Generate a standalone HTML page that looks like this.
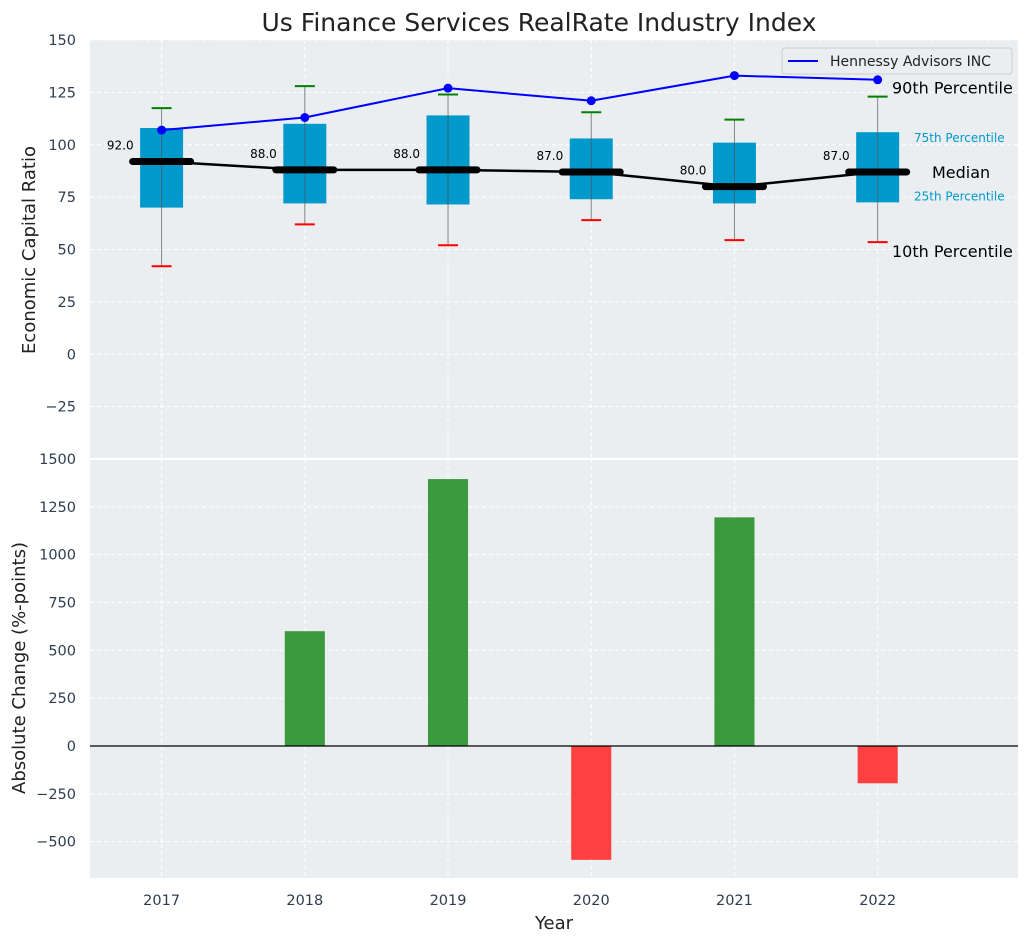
<!DOCTYPE html>
<html><head><meta charset="utf-8"><style>
body{margin:0;background:#fff;}
svg text{font-family:"DejaVu Sans","Liberation Sans",sans-serif;}
</style></head><body>
<svg id="chart" width="1029" height="942" xmlns="http://www.w3.org/2000/svg"></svg>
<script>
const years=[2017,2018,2019,2020,2021,2022];
const p10=[42,62,52,64,54.5,53.5];
const p25=[70,72,71.5,74,72,72.5];
const median=[92,88,88,87,80,87];
const p75=[108,110,114,103,101,106];
const p90=[117.5,128,124,115.5,112,123];
const company=[107,113,127,121,133,131];
const change=[0,600,1395,-595,1195,-195];
const topTicks=[150,125,100,75,50,25,0,-25];
const botTicks=[1500,1250,1000,750,500,250,0,-250,-500];

const NS='http://www.w3.org/2000/svg';
const svg=document.getElementById('chart');
function el(t,a,p){const e=document.createElementNS(NS,t);for(const k in a)e.setAttribute(k,a[k]);(p||svg).appendChild(e);return e;}
const L=90,R=1018,T1=40,B1=459,T2=459,B2=878;
const xS=v=>L+(v-2016.5)/(6.48)*(R-L);
const y1=v=>T1+(150-v)/200*(B1-T1);
const y2=v=>T2+(1500-v)/(1500+690)*(B2-T2);

let r=el('rect',{x:L,y:T1,width:R-L,height:B1-T1,fill:'#eaeef0'});

r=el('rect',{x:L,y:T2,width:R-L,height:B2-T2,fill:'#eaeef0'});

el('line',{x1:L,x2:R,y1:459,y2:459,stroke:'#fff','stroke-width':2});

years.forEach(yr=>{const x=xS(yr);
 el('line',{x1:x,x2:x,y1:T1,y2:B1,stroke:'#fff','stroke-dasharray':'4,3'});
 el('line',{x1:x,x2:x,y1:T2,y2:B2,stroke:'#fff','stroke-dasharray':'4,3'});
 const t=el('text',{x:x,y:905,'text-anchor':'middle','font-size':14.5,fill:'#2e3e50'});t.textContent=yr;
 
});
topTicks.forEach(v=>{const y=y1(v);
 el('line',{x1:L,x2:R,y1:y,y2:y,stroke:'#fff','stroke-dasharray':'4,3'});
 const t=el('text',{x:76,y:y+5,'text-anchor':'end','font-size':14.5,fill:'#2e3e50'});t.textContent=v<0?'\u2212'+(-v):v;
 
});
botTicks.forEach(v=>{const y=y2(v);
 el('line',{x1:L,x2:R,y1:y,y2:y,stroke:'#fff','stroke-dasharray':'4,3'});
 const t=el('text',{x:76,y:y+5,'text-anchor':'end','font-size':14.5,fill:'#2e3e50'});t.textContent=v<0?'\u2212'+(-v):v;
 
});

const bw=0.3*(R-L)/6.48;
years.forEach((yr,i)=>{const x=xS(yr);
 const b=el('rect',{x:x-bw/2,y:y1(p75[i]),width:bw,height:y1(p25[i])-y1(p75[i]),fill:'#0099cc'});
 
 el('line',{x1:x,x2:x,y1:y1(p10[i]),y2:y1(p90[i]),stroke:'#555','stroke-width':1,opacity:0.7});
 el('line',{x1:x-10,x2:x+10,y1:y1(p90[i]),y2:y1(p90[i]),stroke:'green','stroke-width':2});
 el('line',{x1:x-10,x2:x+10,y1:y1(p10[i]),y2:y1(p10[i]),stroke:'red','stroke-width':2});
});
let pts=years.map((yr,i)=>xS(yr)+','+y1(median[i])).join(' ');
let pl=el('polyline',{points:pts,fill:'none',stroke:'#000','stroke-width':2.5});

years.forEach((yr,i)=>{const x=xS(yr),y=y1(median[i]);
 const m=el('line',{x1:x-29,x2:x+29,y1:y,y2:y,stroke:'#000','stroke-width':7,'stroke-linecap':'round'});
 
 const t=el('text',{x:x-28,y:y-12,'text-anchor':'end','font-size':12,fill:'#000'});t.textContent=median[i].toFixed(1);
 
});
pts=years.map((yr,i)=>xS(yr)+','+y1(company[i])).join(' ');
pl=el('polyline',{points:pts,fill:'none',stroke:'#0000ff','stroke-width':2});

years.forEach((yr,i)=>{const c=el('circle',{cx:xS(yr),cy:y1(company[i]),r:4.5,fill:'#0000ff'});
 });

const lg=el('g',{});
el('rect',{x:782,y:48,width:230,height:26,rx:3,fill:'#eaeef0',stroke:'#ccc'},lg);
el('line',{x1:788,x2:818,y1:61,y2:61,stroke:'#0000ff','stroke-width':2},lg);
let t=el('text',{x:830,y:66,'font-size':14,fill:'#222'},lg);t.textContent='Hennessy Advisors INC';

[['90th Percentile',892,y1(p90[5])-3,16,'#000'],['75th Percentile',914,y1(p75[5])+10,12,'#0099cc'],
 ['Median',932,y1(median[5])+6,16,'#000'],['25th Percentile',914,y1(p25[5])-2,12,'#0099cc'],
 ['10th Percentile',892,y1(p10[5])+15,16,'#000']].forEach(a=>{
 const t=el('text',{x:a[1],y:a[2],'font-size':a[3],fill:a[4]});t.textContent=a[0];
 });

const bbw=0.28*(R-L)/6.48;
years.forEach((yr,i)=>{const v=change[i];const y=Math.min(y2(v),y2(0));const h=Math.abs(y2(v)-y2(0));
 const b=el('rect',{x:xS(yr)-bbw/2,y:y,width:bbw,height:h,fill:v>=0?'#3a9a3d':'#ff4040'});
 });
el('line',{x1:L,x2:R,y1:y2(0),y2:y2(0),stroke:'#000','stroke-width':1.2});

t=el('text',{x:539,y:31,'text-anchor':'middle','font-size':25,fill:'#222'});t.textContent='Us Finance Services RealRate Industry Index';

t=el('text',{x:0,y:0,'text-anchor':'middle','font-size':18,fill:'#222',transform:'translate(35,250) rotate(-90)'});t.textContent='Economic Capital Ratio';

t=el('text',{x:0,y:0,'text-anchor':'middle','font-size':18,fill:'#222',transform:'translate(25,668) rotate(-90)'});t.textContent='Absolute Change (%-points)';

t=el('text',{x:554,y:929,'text-anchor':'middle','font-size':18,fill:'#222'});t.textContent='Year';

</script>
</body></html>
